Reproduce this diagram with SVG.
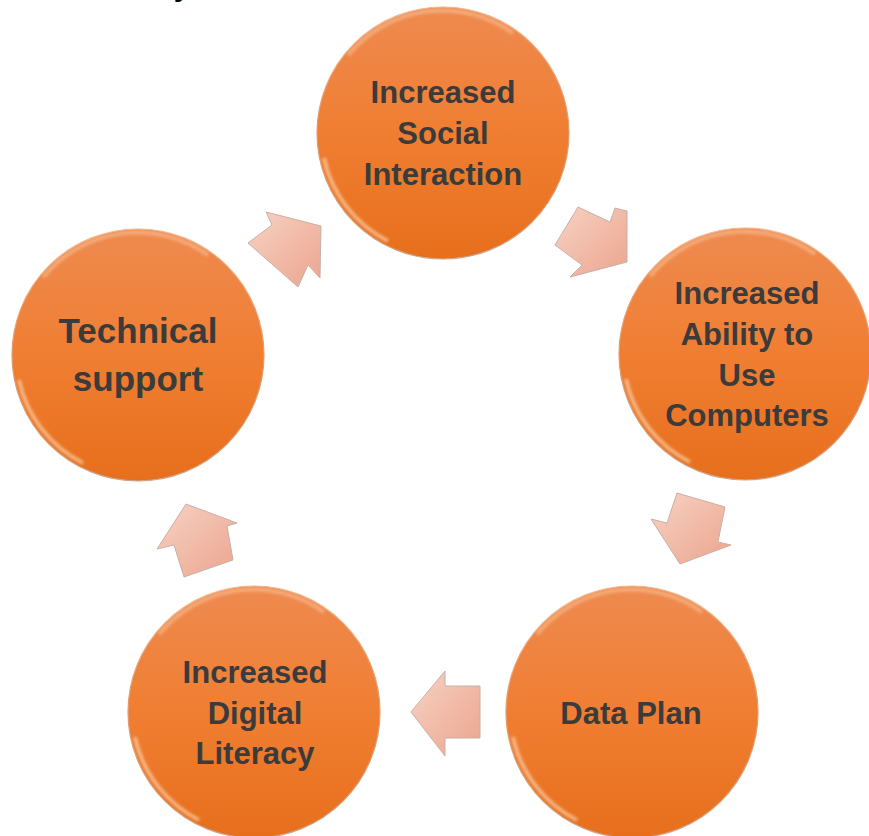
<svg xmlns="http://www.w3.org/2000/svg" width="869" height="836" viewBox="0 0 869 836">
<defs>
<linearGradient id="orb" x1="0" y1="0" x2="0" y2="1">
<stop offset="0" stop-color="#EE8A50"/>
<stop offset="0.5" stop-color="#F07E32"/>
<stop offset="1" stop-color="#E76F1C"/>
</linearGradient>
<linearGradient id="rim" x1="0" y1="0" x2="0" y2="1">
<stop offset="0" stop-color="#F3B58C"/>
<stop offset="0.5" stop-color="#E39A6A"/>
<stop offset="1" stop-color="#C9A58E"/>
</linearGradient>
<linearGradient id="arr" x1="0" y1="0" x2="1" y2="1">
<stop offset="0" stop-color="#F7D2C4"/>
<stop offset="1" stop-color="#EBA58E"/>
</linearGradient>
<filter id="soft" x="-10%" y="-10%" width="120%" height="120%">
<feGaussianBlur stdDeviation="1.5"/>
</filter>
<g id="orbShape">
<circle r="126" fill="url(#orb)" stroke="url(#rim)" stroke-width="1.2"/>
<path d="M -95 -78 A 122 122 0 0 1 70 -100" fill="none" stroke="#FBC9A0" stroke-width="4" opacity="0.55" filter="url(#soft)"/>
<path d="M -119 25 A 122 122 0 0 0 -55 108" fill="none" stroke="#FDE3C6" stroke-width="3.5" opacity="0.65" filter="url(#soft)"/>
</g>
</defs>
<style>
.lbl{font-family:"Liberation Sans",Arial,sans-serif;font-weight:bold;font-size:31px;fill:#3B3B3B;text-anchor:middle}
.big{font-size:35px}
.arrow{fill:url(#arr);stroke:#C9AFA6;stroke-width:1;stroke-linejoin:round}
</style>
<rect width="869" height="836" fill="#FFFFFF"/>
<text x="182" y="-4" style="font-family:'Liberation Sans',Arial,sans-serif;font-weight:bold;font-size:30px;fill:#000;text-anchor:middle">y</text>
<g id="connectors">
<polygon class="arrow" points="266,212 321,226 320,278 308,265 298,287 248,243 272,225"/>
<polygon class="arrow" points="578,207 610,222 615,208 627,211 627,262 570,277 582,265 555,245"/>
<polygon class="arrow" points="677,493 725,507 718,542 731,545 680,564 651,519 667,523"/>
<polygon class="arrow" points="445,671 445,686 480,686 480,738 445,738 445,756 411,712"/>
<polygon class="arrow" points="186,504 237,523 227,526 233,560 184,577 174,545 157,549"/>
</g>
<g id="node-social">
<use href="#orbShape" x="443" y="133"/>
<text class="lbl" x="443" y="103">Increased</text>
<text class="lbl" x="443" y="144">Social</text>
<text class="lbl" x="443" y="185">Interaction</text>
</g>
<g id="node-computers">
<use href="#orbShape" x="745" y="354"/>
<text class="lbl" x="747" y="304">Increased</text>
<text class="lbl" x="747" y="345">Ability to</text>
<text class="lbl" x="747" y="386">Use</text>
<text class="lbl" x="747" y="426">Computers</text>
</g>
<g id="node-dataplan">
<use href="#orbShape" x="632" y="712"/>
<text class="lbl" x="631" y="724">Data Plan</text>
</g>
<g id="node-literacy">
<use href="#orbShape" x="254" y="712"/>
<text class="lbl" x="255" y="683">Increased</text>
<text class="lbl" x="255" y="724">Digital</text>
<text class="lbl" x="255" y="764">Literacy</text>
</g>
<g id="node-support">
<use href="#orbShape" x="138" y="355"/>
<text class="lbl big" x="138" y="343">Technical</text>
<text class="lbl big" x="138" y="391">support</text>
</g>
</svg>
